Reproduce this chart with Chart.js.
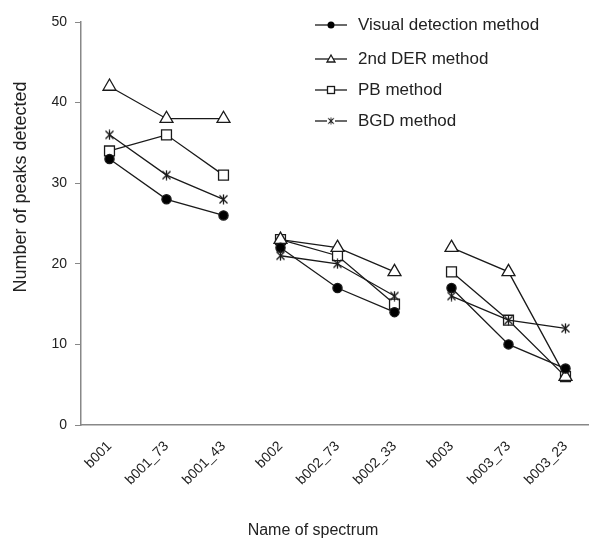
<!DOCTYPE html>
<html>
<head>
<meta charset="utf-8">
<script src="https://cdn.jsdelivr.net/npm/chart.js@4/dist/chart.umd.min.js"></script>
<style>
  html, body { margin: 0; padding: 0; background: #fff; }
  #wrap { width: 589px; height: 540px; }
</style>
</head>
<body>
<div id="wrap"><canvas id="grafico" width="589" height="540"></canvas></div>
<script>
// Datos
const categorias = ['b001', 'b001_73', 'b001_43', 'b002', 'b002_73', 'b002_33', 'b003', 'b003_73', 'b003_23'];
const visual = [33, 28, 26, 22, 17, 14, 17, 10, 7];
const der2 = [42, 38, 38, 23, 22, 19, 22, 19, 6];
const pb = [34, 36, 31, 23, 21, 15, 19, 13, 6];
const bgd = [36, 31, 28, 21, 20, 16, 16, 13, 12];
const finGrupo = [2, 5]; // no se une el último punto de un grupo con el siguiente

const FONT = '"Liberation Sans", Arial, sans-serif';
const LINEA = '#1a1a1a';

// marcador tipo asterisco (x con línea vertical)
function marcaBGD(size) {
  const c = document.createElement('canvas');
  c.width = size; c.height = size;
  const g = c.getContext('2d');
  g.strokeStyle = LINEA;
  g.lineWidth = 1.3;
  const m = 1.5, s = size;
  g.beginPath();
  g.moveTo(m, m); g.lineTo(s - m, s - m);
  g.moveTo(s - m, m); g.lineTo(m, s - m);
  g.moveTo(s / 2, 0.5); g.lineTo(s / 2, s - 0.5);
  g.stroke();
  return c;
}
const estrella = marcaBGD(11);

const segmento = {
  borderColor: ctx => finGrupo.includes(ctx.p0DataIndex) ? 'rgba(0,0,0,0)' : LINEA
};

function serie(label, data, estilo, radio, relleno) {
  return {
    label: label,
    data: data,
    borderColor: LINEA,
    borderWidth: 1.3,
    pointStyle: estilo,
    pointRadius: radio,
    pointHoverRadius: radio,
    pointBackgroundColor: relleno,
    pointBorderColor: LINEA,
    pointBorderWidth: 1.3,
    segment: segmento,
    fill: false,
    tension: 0
  };
}

const datasets = [
  serie('BGD method', bgd, estrella, 5.5, '#fff'),
  serie('Visual detection method', visual, 'circle', 4.6, '#000'),
  serie('2nd DER method', der2, 'triangle', 7.5, '#fff'),
  serie('PB method', pb, 'rect', 7, '#fff')
];

const ordenLeyenda = ['Visual detection method', '2nd DER method', 'PB method', 'BGD method'];

// El eje x del original sigue más allá del borde derecho
const ajusteArea = {
  id: 'ajusteArea',
  afterLayout(chart) {
    const x = chart.scales.x;
    const derecha = 594;
    x.right = derecha;
    x.width = derecha - x.left;
    chart.chartArea.right = derecha;
    chart.chartArea.width = derecha - chart.chartArea.left;
    x.configure();
  }
};

// Leyenda y títulos de ejes dibujados a mano
const extras = {
  id: 'extras',
  afterDraw(chart) {
    const ctx = chart.ctx;
    const ys = [25, 59, 90, 121];
    ordenLeyenda.forEach((nombre, i) => {
      const ds = chart.data.datasets.find(d => d.label === nombre);
      const y = ys[i];
      ctx.save();
      ctx.strokeStyle = LINEA;
      ctx.lineWidth = 1.3;
      ctx.beginPath();
      ctx.moveTo(315, y); ctx.lineTo(347, y);
      ctx.stroke();
      const x = 331;
      ctx.fillStyle = ds.pointBackgroundColor;
      if (ds.pointStyle === 'circle') {
        ctx.beginPath(); ctx.arc(x, y, 3.5, 0, Math.PI * 2); ctx.fill();
      } else if (ds.pointStyle === 'triangle') {
        ctx.beginPath();
        ctx.moveTo(x, y - 4); ctx.lineTo(x + 4, y + 3); ctx.lineTo(x - 4, y + 3); ctx.closePath();
        ctx.fill(); ctx.stroke();
      } else if (ds.pointStyle === 'rect') {
        ctx.fillRect(x - 3.5, y - 3.5, 7, 7);
        ctx.strokeRect(x - 3.5, y - 3.5, 7, 7);
      } else {
        ctx.fillStyle = '#fff';
        ctx.fillRect(x - 4, y - 4, 8, 8);
        ctx.drawImage(estrella, x - 4, y - 4, 8, 8);
      }
      ctx.fillStyle = '#222';
      ctx.font = '17px ' + FONT;
      ctx.textBaseline = 'middle';
      ctx.textAlign = 'left';
      ctx.fillText(nombre, 358, y);
      ctx.restore();
    });

    // títulos
    ctx.save();
    ctx.fillStyle = '#222';
    ctx.font = '16px ' + FONT;
    ctx.textAlign = 'center';
    ctx.textBaseline = 'middle';
    ctx.fillText('Name of spectrum', 313, 531);
    ctx.translate(21, 187);
    ctx.rotate(-Math.PI / 2);
    ctx.font = '18px ' + FONT;
    ctx.fillText('Number of peaks detected', 0, 0);
    ctx.restore();
  }
};

new Chart(document.getElementById('grafico').getContext('2d'), {
  type: 'line',
  data: { labels: categorias, datasets: datasets },
  options: {
    responsive: false,
    animation: false,
    layout: { padding: { top: 22, right: 0, left: 0, bottom: 0 } },
    plugins: {
      legend: { display: false },
      tooltip: { enabled: false }
    },
    scales: {
      x: {
        offset: true,
        afterFit: s => { s.height = 115; },
        grid: { drawOnChartArea: false, drawTicks: false },
        border: { display: true, color: '#888', width: 1.5 },
        ticks: {
          minRotation: 45,
          maxRotation: 45,
          padding: 13,
          color: '#222',
          font: { family: FONT, size: 14 }
        }
      },
      y: {
        min: 0,
        max: 50,
        afterFit: s => { s.width = 81; },
        grid: { drawOnChartArea: false, drawTicks: true, tickLength: 6, color: '#888' },
        border: { display: true, color: '#888', width: 1.5 },
        ticks: {
          stepSize: 10,
          padding: 8,
          color: '#222',
          font: { family: FONT, size: 14 }
        }
      }
    }
  },
  plugins: [ajusteArea, extras]
});
</script>
</body>
</html>
